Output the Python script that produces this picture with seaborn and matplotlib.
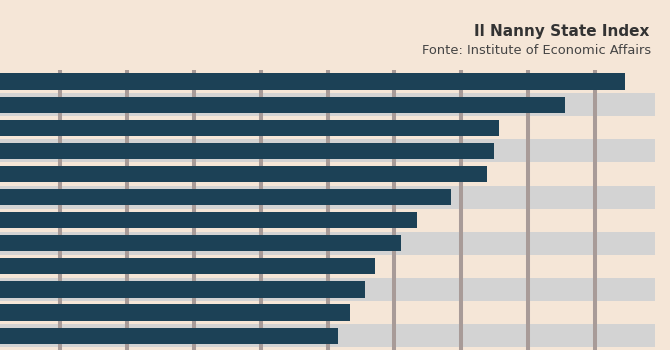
import seaborn as sns
import pandas as pd
import matplotlib.pyplot as plt

# valori dell'indice (righe dall'alto in basso)
rows = ['r01', 'r02', 'r03', 'r04', 'r05', 'r06',
        'r07', 'r08', 'r09', 'r10', 'r11', 'r12']
scores = [94.5, 85.5, 75.6, 74.9, 73.9, 68.5, 63.4, 61.0, 57.1, 55.6, 53.4, 51.6]
band_rows = ['r02', 'r04', 'r06', 'r08', 'r10', 'r12']
band_len = [99, 99, 99, 99, 99, 99]
grid_ticks = [10, 20, 30, 40, 50, 60, 70, 80, 90]

bg = '#f5e6d7'
df = pd.DataFrame({'row': rows, 'score': scores})
bands = pd.DataFrame({'row': band_rows, 'score': band_len})

fig = plt.figure(figsize=(6.7, 3.5), dpi=100, facecolor=bg)
ax = fig.add_axes([0, 0, 1, 0.8])
ax.set_facecolor(bg)

sns.barplot(data=bands, x='score', y='row', order=rows, orient='h',
            color='#d3d3d3', width=1.0, saturation=1, ax=ax, zorder=0.2)
sns.barplot(data=df, x='score', y='row', order=rows, orient='h',
            color='#1c4156', width=0.7, saturation=1, ax=ax, zorder=2)

ax.set_xlim(1.03, 101.2)
ax.set_ylim(11.62, -0.5)
ax.set_xticks(grid_ticks)
ax.set_axisbelow(True)
ax.grid(axis='x', color='#a89b98', linewidth=2.9)
ax.grid(axis='y', visible=False)
ax.tick_params(left=False, bottom=False, labelleft=False, labelbottom=False)
ax.set_xlabel('')
ax.set_ylabel('')
for s in ax.spines.values():
    s.set_visible(False)

fig.text(0.969, 0.911, 'Il Nanny State Index', ha='right', va='center',
         fontsize=11, fontweight='bold', color='#333333')
fig.text(0.972, 0.857, 'Fonte: Institute of Economic Affairs', ha='right',
         va='center', fontsize=9.4, color='#444444')

plt.savefig('out.png', dpi=100, facecolor=bg)
